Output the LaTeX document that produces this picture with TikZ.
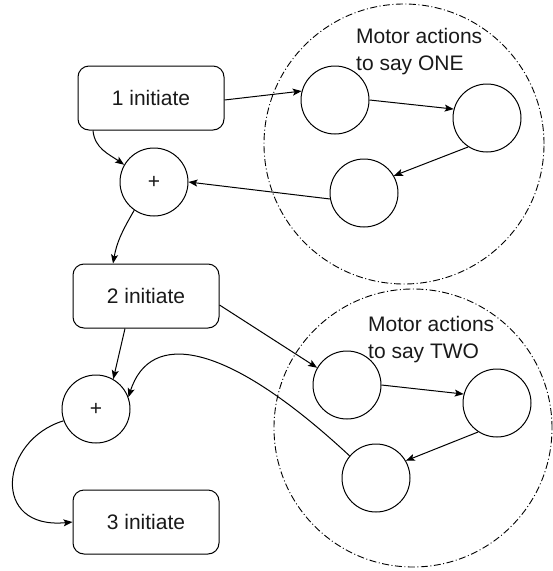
\documentclass[tikz,border=0pt]{standalone}
\usepackage{fontspec}
\setmainfont{Liberation Sans}
\usetikzlibrary{arrows.meta}
\begin{document}
\begin{tikzpicture}[x=1pt,y=-1pt,
  every node/.style={font=\fontsize{21}{27}\selectfont, text=black!90},
  stepbox/.style={draw, line width=1pt, rounded corners=11pt, minimum width=146pt, minimum height=64pt},
  unit/.style={draw, circle, line width=1pt, minimum size=68pt, inner sep=0pt},
  group/.style={draw, circle, line width=0.9pt, inner sep=0pt, dash pattern=on 7pt off 2.5pt on 1pt off 2.5pt},
  caption/.style={align=left, anchor=west, inner sep=0pt},
  link/.style={line width=1pt, -{Stealth[length=9pt,width=7pt,inset=2pt]}}]
\useasboundingbox (0,0) rectangle (553,571);

% groups of motor actions
\node[group, minimum size=280pt] (g1) at (404,144) {};
\node[group, minimum size=278pt] (g2) at (413,428) {};
\node[caption] (t1) at (356,51.5) {Motor actions\\to say ONE};
\node[caption] (t2) at (368,340) {Motor actions\\to say TWO};

% initiation steps
\node[stepbox] (i1) at (151,98) {1 initiate};
\node[stepbox] (i2) at (146,296) {2 initiate};
\node[stepbox] (i3) at (146,522) {3 initiate};

% summing junctions
\node[unit] (p1) at (154,182) {+};
\node[unit] (p2) at (96,409) {+};

% action units
\node[unit] (a1) at (335,100) {};
\node[unit] (a2) at (487,118) {};
\node[unit] (a3) at (364,193) {};
\node[unit] (b1) at (347,385) {};
\node[unit] (b2) at (497,403) {};
\node[unit] (b3) at (376,478) {};

% connectors for ONE
\draw[link] (i1.east |- 0,100) -- (a1.165);
\draw[link] (a1.east) -- (a2.165);
\draw[link] (a2.237) -- (a3.30);
\draw[link] (a3.190) -- (p1.east);
\draw[link] (i1.south -| 93,0) to[out=-85,in=145] (p1.150);
\draw[link] (p1.235) to[out=-120,in=80] (i2.north -| 113,0);

% connectors for TWO
\draw[link] (i2.east |- 0,305) -- (b1.150);
\draw[link] (i2.south -| 125,0) -- (p2.60);
\draw[link] (b3.140) .. controls (225,340) and (150,330) .. (p2.20);
\draw[link] (p2.200) .. controls (0,440) and (-10,530) .. (i3.west);
\draw[link] (b1.east) -- (b2.165);
\draw[link] (b2.237) -- (b3.30);
\end{tikzpicture}
\end{document}
